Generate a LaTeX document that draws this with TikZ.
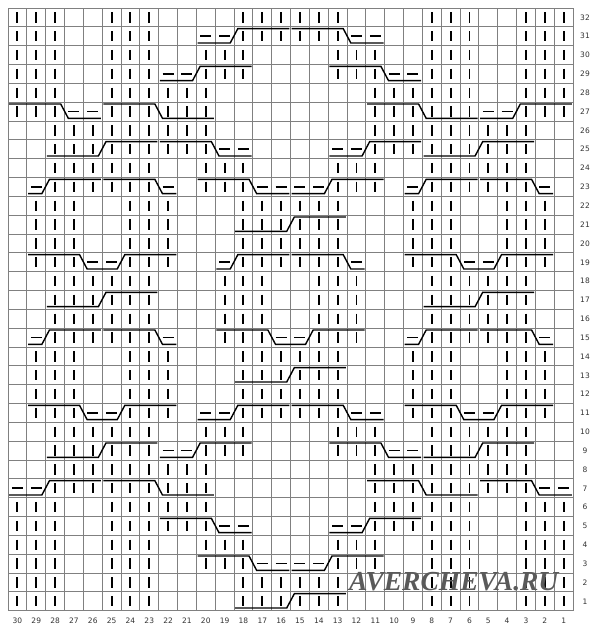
\documentclass[tikz,border=0pt]{standalone}
\usepackage{fontspec}
\setmainfont{DejaVu Sans}
\newfontfamily\wmfont{Liberation Serif}
\definecolor{gridc}{HTML}{808080}
\definecolor{wmc}{HTML}{5A5A5A}
\newcommand\Bars[2]{\foreach \i in {#2}{\draw[kbar] ({8+(\i+0.5)*18.835},{8+(32-#1)*18.835+4.2}) -- ++(0,10.4);}}
\newcommand\Dashes[2]{\foreach \i in {#2}{\draw[pdash] ({8+(\i+0.5)*18.835-5.5},{8+(32-#1+0.5)*18.835}) -- ++(11,0);}}
\newcommand\CabR[4]{\draw[cab] ({8+#2*18.835+1.2},{8+(32-#1)*18.835+1.8}) -- ({8+#3*18.835-3.8},{8+(32-#1)*18.835+1.8}) -- ({8+#3*18.835+3.8},{8+(33-#1)*18.835-2.7}) -- ({8+#4*18.835-1.2},{8+(33-#1)*18.835-2.7});}
\newcommand\CabL[4]{\draw[cab] ({8+#2*18.835+1.2},{8+(33-#1)*18.835-2.7}) -- ({8+#3*18.835-3.8},{8+(33-#1)*18.835-2.7}) -- ({8+#3*18.835+3.8},{8+(32-#1)*18.835+1.8}) -- ({8+#4*18.835-1.2},{8+(32-#1)*18.835+1.8});}
\newcommand\CabV[5]{\draw[cab] ({8+#2*18.835+1.2},{8+(32-#1)*18.835+1.8}) -- ({8+#3*18.835-3.8},{8+(32-#1)*18.835+1.8}) -- ({8+#3*18.835+3.8},{8+(33-#1)*18.835-2.7}) -- ({8+#4*18.835-3.8},{8+(33-#1)*18.835-2.7}) -- ({8+#4*18.835+3.8},{8+(32-#1)*18.835+1.8}) -- ({8+#5*18.835-1.2},{8+(32-#1)*18.835+1.8});}
\begin{document}
\begin{tikzpicture}[x=1pt,y=-1pt,
  gridl/.style={draw=gridc,line width=0.9pt},
  kbar/.style={draw=black,line width=1.9pt},
  pdash/.style={draw=black,line width=1.7pt},
  cab/.style={draw=black,line width=1.4pt,line join=miter},
  lbl/.style={inner sep=0pt,font=\fontsize{7.5}{9}\selectfont,text=black!80},
  wm/.style={inner sep=0pt,text=wmc,font=\fontsize{27.5}{30}\wmfont\bfseries\itshape}]
\useasboundingbox (0,0) rectangle (600,629);
\fill[white] (0,0) rectangle (600,629);
% grid
\foreach \k in {0,...,30} \draw[gridl] ({8+\k*18.835},8) -- ({8+\k*18.835},610.9);
\foreach \k in {0,...,32} \draw[gridl] (8,{8+\k*18.835}) -- (573,{8+\k*18.835});
% row 32
\Bars{32}{0,1,2,5,6,7,12,13,14,15,16,17,22,23,24,27,28,29}
% row 31
\Bars{31}{0,1,2,5,6,7,12,13,14,15,16,17,22,23,24,27,28,29}
\Dashes{31}{10,11,18,19}
\CabL{31}{10}{12}{15}\CabR{31}{15}{18}{20}
% row 30
\Bars{30}{0,1,2,5,6,7,10,11,12,17,18,19,22,23,24,27,28,29}
% row 29
\Bars{29}{0,1,2,5,6,7,10,11,12,17,18,19,22,23,24,27,28,29}
\Dashes{29}{8,9,20,21}
\CabL{29}{8}{10}{13}\CabR{29}{17}{20}{22}
% row 28
\Bars{28}{0,1,2,5,6,7,8,9,10,19,20,21,22,23,24,27,28,29}
% row 27
\Bars{27}{0,1,2,5,6,7,8,9,10,19,20,21,22,23,24,27,28,29}
\Dashes{27}{3,4,25,26}
\CabR{27}{0}{3}{5}\CabR{27}{5}{8}{11}\CabR{27}{19}{22}{25}\CabL{27}{25}{27}{30}
% row 26
\Bars{26}{2,3,4,5,6,7,8,9,10,19,20,21,22,23,24,25,26,27}
% row 25
\Bars{25}{2,3,4,5,6,7,8,9,10,19,20,21,22,23,24,25,26,27}
\Dashes{25}{11,12,17,18}
\CabL{25}{2}{5}{8}\CabR{25}{8}{11}{13}\CabL{25}{17}{19}{22}\CabL{25}{22}{25}{28}
% row 24
\Bars{24}{2,3,4,5,6,7,10,11,12,17,18,19,22,23,24,25,26,27}
% row 23
\Bars{23}{2,3,4,5,6,7,10,11,12,17,18,19,22,23,24,25,26,27}
\Dashes{23}{1,8,13,14,15,16,21,28}
\CabL{23}{1}{2}{5}\CabR{23}{5}{8}{9}\CabR{23}{10}{13}{15}\CabL{23}{15}{17}{20}\CabL{23}{21}{22}{25}\CabR{23}{25}{28}{29}
% rows 22-20
\Bars{22}{1,2,3,6,7,8,12,13,14,15,16,17,21,22,23,26,27,28}
\Bars{21}{1,2,3,6,7,8,12,13,14,15,16,17,21,22,23,26,27,28}
\CabL{21}{12}{15}{18}
\Bars{20}{1,2,3,6,7,8,12,13,14,15,16,17,21,22,23,26,27,28}
% row 19
\Bars{19}{1,2,3,6,7,8,12,13,14,15,16,17,21,22,23,26,27,28}
\Dashes{19}{4,5,11,18,24,25}
\CabV{19}{1}{4}{6}{9}\CabL{19}{11}{12}{15}\CabR{19}{15}{18}{19}\CabV{19}{21}{24}{26}{29}
% rows 18-16
\Bars{18}{2,3,4,5,6,7,11,12,13,16,17,18,22,23,24,25,26,27}
\Bars{17}{2,3,4,5,6,7,11,12,13,16,17,18,22,23,24,25,26,27}
\CabL{17}{2}{5}{8}\CabL{17}{22}{25}{28}
\Bars{16}{2,3,4,5,6,7,11,12,13,16,17,18,22,23,24,25,26,27}
% row 15
\Bars{15}{2,3,4,5,6,7,11,12,13,16,17,18,22,23,24,25,26,27}
\Dashes{15}{1,8,14,15,21,28}
\CabL{15}{1}{2}{5}\CabR{15}{5}{8}{9}\CabV{15}{11}{14}{16}{19}\CabL{15}{21}{22}{25}\CabR{15}{25}{28}{29}
% rows 14-12
\Bars{14}{1,2,3,6,7,8,12,13,14,15,16,17,21,22,23,26,27,28}
\Bars{13}{1,2,3,6,7,8,12,13,14,15,16,17,21,22,23,26,27,28}
\CabL{13}{12}{15}{18}
\Bars{12}{1,2,3,6,7,8,12,13,14,15,16,17,21,22,23,26,27,28}
% row 11
\Bars{11}{1,2,3,6,7,8,12,13,14,15,16,17,21,22,23,26,27,28}
\Dashes{11}{4,5,10,11,18,19,24,25}
\CabV{11}{1}{4}{6}{9}\CabL{11}{10}{12}{15}\CabR{11}{15}{18}{20}\CabV{11}{21}{24}{26}{29}
% row 10
\Bars{10}{2,3,4,5,6,7,10,11,12,17,18,19,22,23,24,25,26,27}
% row 9
\Bars{9}{2,3,4,5,6,7,10,11,12,17,18,19,22,23,24,25,26,27}
\Dashes{9}{8,9,20,21}
\CabL{9}{2}{5}{8}\CabL{9}{8}{10}{13}\CabR{9}{17}{20}{22}\CabL{9}{22}{25}{28}
% row 8
\Bars{8}{2,3,4,5,6,7,8,9,10,19,20,21,22,23,24,25,26,27}
% row 7
\Bars{7}{2,3,4,5,6,7,8,9,10,19,20,21,22,23,24,25,26,27}
\Dashes{7}{0,1,28,29}
\CabL{7}{0}{2}{5}\CabR{7}{5}{8}{11}\CabR{7}{19}{22}{25}\CabR{7}{25}{28}{30}
% row 6
\Bars{6}{0,1,2,5,6,7,8,9,10,19,20,21,22,23,24,27,28,29}
% row 5
\Bars{5}{0,1,2,5,6,7,8,9,10,19,20,21,22,23,24,27,28,29}
\Dashes{5}{11,12,17,18}
\CabR{5}{8}{11}{13}\CabL{5}{17}{19}{22}
% row 4
\Bars{4}{0,1,2,5,6,7,10,11,12,17,18,19,22,23,24,27,28,29}
% row 3
\Bars{3}{0,1,2,5,6,7,10,11,12,17,18,19,22,23,24,27,28,29}
\Dashes{3}{13,14,15,16}
\CabR{3}{10}{13}{15}\CabL{3}{15}{17}{20}
% rows 2-1
\Bars{2}{0,1,2,5,6,7,12,13,14,15,16,17,22,23,24,27,28,29}
\Bars{1}{0,1,2,5,6,7,12,13,14,15,16,17,22,23,24,27,28,29}
\CabL{1}{12}{15}{18}
% labels
\foreach \r in {1,...,32} \node[lbl] (row\r) at (585,{8+(32-\r+0.5)*18.835}) {\r};
\foreach \c in {1,...,30} \node[lbl] (col\c) at ({8+(30-\c+0.5)*18.835},620.5) {\c};
\node[wm,anchor=base west] (wmark) at (349,590) {AVERCHEVA.RU};
\end{tikzpicture}
\end{document}
